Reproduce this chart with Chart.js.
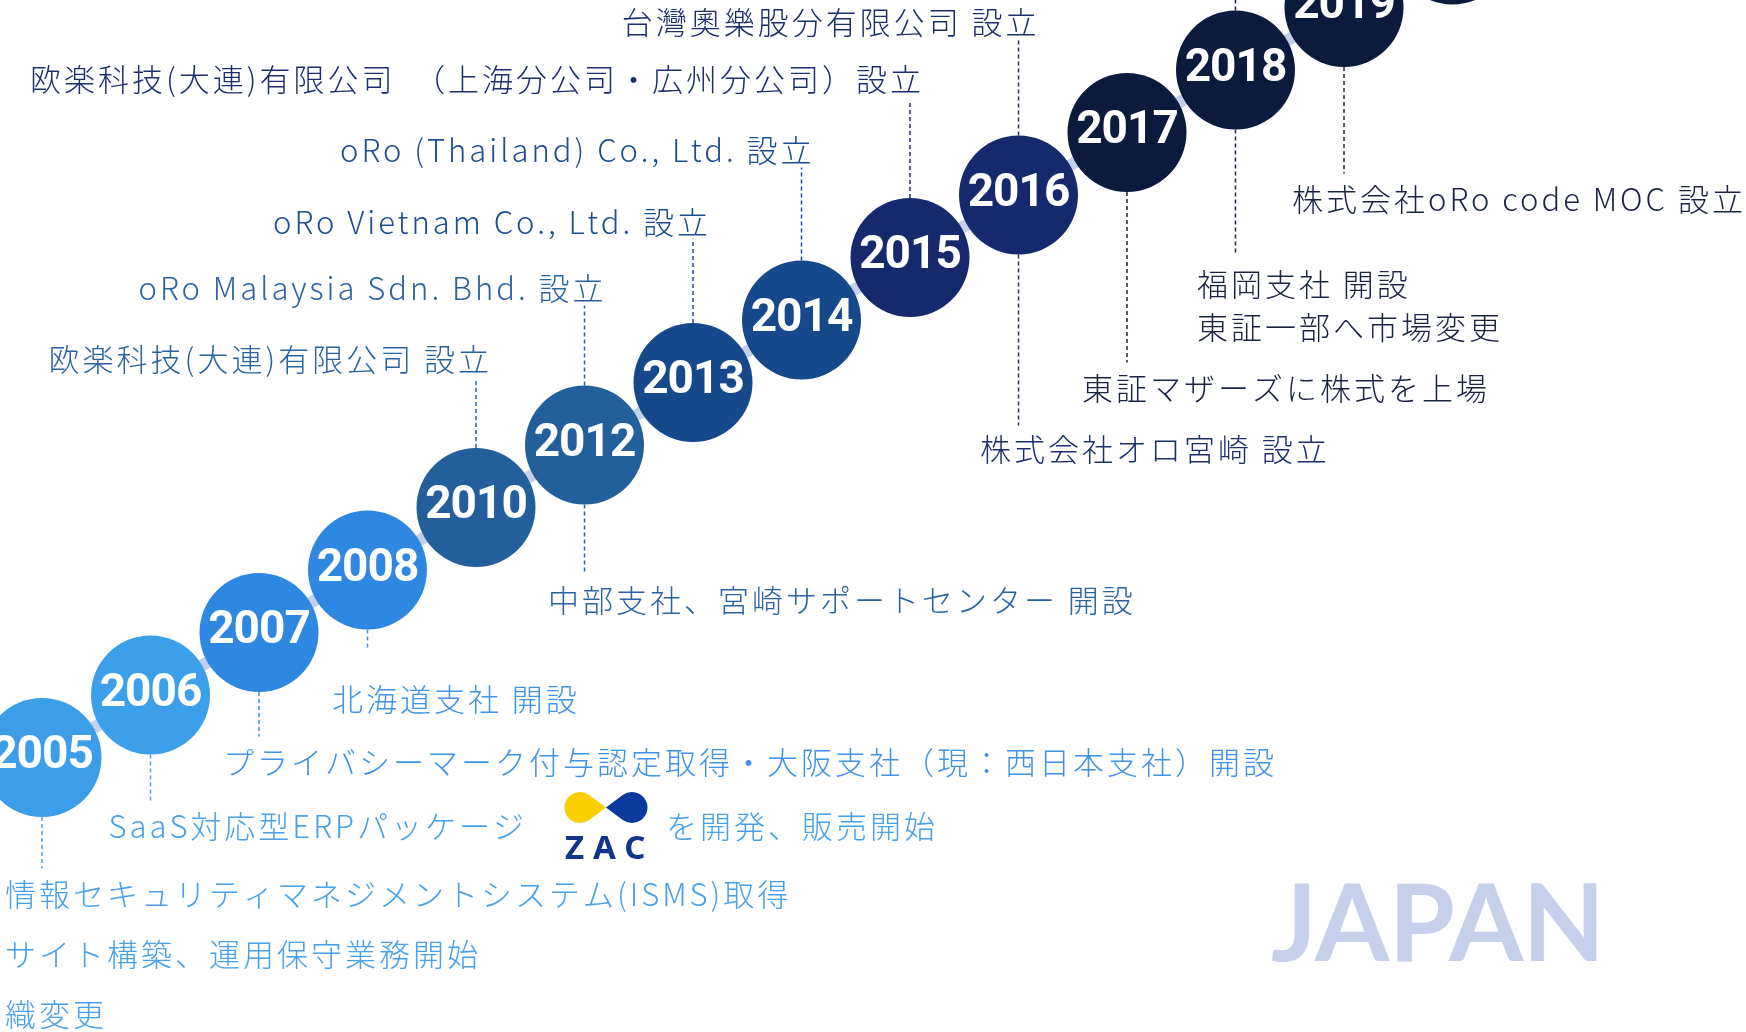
<!DOCTYPE html>
<html>
<head>
<meta charset="utf-8">
<script src="https://cdn.jsdelivr.net/npm/chart.js@4/dist/chart.umd.min.js"></script>
<style>
  html, body { margin: 0; padding: 0; background: #fff; overflow: hidden; }
  canvas { display: block; }
</style>
</head>
<body>
<canvas id="historyChart" width="1746" height="1032"></canvas>
<script>
// timeline data
var years = ['2005', '2006', '2007', '2008', '2010', '2012', '2013', '2014', '2015', '2016', '2017', '2018', '2019', '2020'];
var steps = [0, 1, 2, 3, 4, 5, 6, 7, 8, 9, 10, 11, 12, 13];

// events written under a circle
var belowYears = ['2005', '2006', '2007', '2008', '2012', '2016', '2017', '2018', '2019'];
var belowTexts = [
    ['情報セキュリティマネジメントシステム(ISMS)取得', 'サイト構築、運用保守業務開始', '織変更'],
    ['SaaS対応型ERPパッケージ', 'を開発、販売開始'],
    ['プライバシーマーク付与認定取得・大阪支社（現：西日本支社）開設'],
    ['北海道支社 開設'],
    ['中部支社、宮崎サポートセンター 開設'],
    ['株式会社オロ宮崎 設立'],
    ['東証マザーズに株式を上場'],
    ['福岡支社 開設', '東証一部へ市場変更'],
    ['株式会社oRo code MOC 設立']
];

// events written above a circle
var aboveYears = ['2010', '2012', '2013', '2014', '2015', '2016', '2018'];
var aboveTexts = [
    '欧楽科技(大連)有限公司 設立',
    'oRo Malaysia Sdn. Bhd. 設立',
    'oRo Vietnam Co., Ltd. 設立',
    'oRo (Thailand) Co., Ltd. 設立',
    '欧楽科技(大連)有限公司　（上海分公司・広州分公司）設立',
    '台灣奧樂股分有限公司 設立',
    ''
];

// styles
var circleColors = ['#3c9de9', '#3c9fea', '#2e87e1', '#2e87e1', '#235f9b', '#235f9b', '#15498b', '#15498b',
    '#15296c', '#15296c', '#0c1a3e', '#0c1a3e', '#0c1a3e', '#0c1a3e'];
var textColors = ['#48a0e8', '#48a0e8', '#3f92e4', '#3f92e4', '#2b62a0', '#2b62a0', '#1c4d8f', '#1c4d8f',
    '#1d2e6c', '#1d2e6c', '#1a2342', '#1a2342', '#1a2342', '#1a2342'];
// [text dy, leader end dy, text dx, line gap] from circle centre
var belowLayout = [
    [137, 111, -37, 60], [131.5, 108.5, -42, 0], [130, 104, -36, 0], [129.5, 80.5, -35.5, 0],
    [155.5, 128.5, -36.5, 0], [254.5, 230.5, -38.5, 0], [256, 230, -45, 0], [214.5, 182.5, -38.5, 43],
    [192, 166, -52, 0]
];
// [text dy, leader end dy, right edge dx]
var aboveLayout = [
    [-148, -127, 16], [-156.5, -139.5, 22], [-160, -144, 18], [-169.5, -152.5, 13],
    [-178, -157, 14], [-172.5, -157.5, 21], [-200, -100, 0]
];
var radius = 59.5;
var jpFont = '300 31px "Noto Sans CJK JP", "Noto Sans", sans-serif';

function leader(ctx, x, y1, y2, color) {
    ctx.save();
    ctx.strokeStyle = color;
    ctx.lineWidth = 1.5;
    ctx.setLineDash([4, 3]);
    ctx.beginPath();
    ctx.moveTo(x, y1);
    ctx.lineTo(x, y2);
    ctx.stroke();
    ctx.restore();
}

// ZAC product logo (two drops + letters)
function zacLogo(ctx, x, y) {
    var r = 15.5, d = 26, t = Math.acos(r / d);
    var mid = x + 41;
    ctx.save();
    ctx.fillStyle = '#f9cf00';
    ctx.beginPath();
    ctx.moveTo(mid, y);
    ctx.arc(mid - d, y, r, t, -t, false);
    ctx.closePath();
    ctx.fill();
    ctx.fillStyle = '#0b3a9e';
    ctx.beginPath();
    ctx.moveTo(mid, y);
    ctx.arc(mid + d, y, r, Math.PI + t, Math.PI - t, false);
    ctx.closePath();
    ctx.fill();
    ctx.fillStyle = '#11358a';
    ctx.font = 'bold 33px "Noto Sans", sans-serif';
    ctx.letterSpacing = '9px';
    ctx.textAlign = 'left';
    ctx.textBaseline = 'middle';
    ctx.fillText('ZAC', x, y + 42);
    ctx.restore();
}

var timelineText = {
    id: 'timelineText',
    afterDatasetsDraw: function (chart) {
        var ctx = chart.ctx;
        var pts = chart.getDatasetMeta(0).data;

        // year labels
        ctx.save();
        ctx.fillStyle = '#ffffff';
        ctx.font = 'bold 46px Roboto, sans-serif';
        ctx.letterSpacing = '-1px';
        ctx.textAlign = 'center';
        ctx.textBaseline = 'middle';
        pts.forEach(function (p, i) {
            ctx.fillText(years[i], p.x, p.y - 1);
        });
        ctx.restore();

        ctx.save();
        ctx.font = jpFont;
        ctx.letterSpacing = '3px';
        ctx.textBaseline = 'middle';

        // events below
        belowYears.forEach(function (y, k) {
            var i = years.indexOf(y);
            var p = pts[i], lay = belowLayout[k];
            var color = textColors[i];
            leader(ctx, p.x, p.y + radius, p.y + lay[1], color);
            ctx.fillStyle = color;
            ctx.textAlign = 'left';
            var lines = belowTexts[k];
            if (y === '2006') {
                var tx = p.x + lay[2], ty = p.y + lay[0];
                ctx.fillText(lines[0], tx, ty);
                var lx = tx + ctx.measureText(lines[0]).width + 38;
                zacLogo(ctx, lx, ty - 19);
                ctx.font = jpFont;
                ctx.letterSpacing = '3px';
                ctx.fillStyle = color;
                ctx.fillText(lines[1], lx + 101, ty);
                return;
            }
            lines.forEach(function (s, j) {
                ctx.fillText(s, p.x + lay[2], p.y + lay[0] + j * lay[3]);
            });
        });

        // events above
        aboveYears.forEach(function (y, k) {
            var i = years.indexOf(y);
            var p = pts[i], lay = aboveLayout[k];
            var color = textColors[i];
            leader(ctx, p.x, p.y - radius, p.y + lay[1], color);
            ctx.fillStyle = color;
            ctx.textAlign = 'right';
            ctx.fillText(aboveTexts[k], p.x + lay[2], p.y + lay[0]);
        });
        ctx.restore();

        // region watermark
        ctx.save();
        ctx.fillStyle = '#c7d0ea';
        ctx.font = 'bold 107px Lato, sans-serif';
        ctx.textAlign = 'left';
        ctx.textBaseline = 'alphabetic';
        var w = ctx.measureText('JAPAN').width;
        ctx.letterSpacing = ((334 - w) / 4) + 'px';
        ctx.fillText('JAPAN', 1271, 961);
        ctx.restore();
    }
};

new Chart(document.getElementById('historyChart'), {
    type: 'scatter',
    data: {
        datasets: [{
            data: steps.map(function (s) { return { x: s, y: s }; }),
            showLine: true,
            clip: false,
            borderColor: '#c6cfe9',
            borderWidth: 12,
            pointRadius: radius,
            pointHoverRadius: radius,
            pointBorderWidth: 0,
            pointBackgroundColor: circleColors,
            pointBorderColor: circleColors
        }]
    },
    options: {
        responsive: false,
        animation: false,
        devicePixelRatio: 1,
        events: [],
        layout: { padding: 0, autoPadding: false },
        scales: {
            x: { type: 'linear', display: false, min: -0.3871, max: 15.705 },
            y: { type: 'linear', display: false, min: -4.392, max: 12.12 }
        },
        plugins: {
            legend: { display: false },
            tooltip: { enabled: false }
        }
    },
    plugins: [timelineText]
});
</script>
</body>
</html>
